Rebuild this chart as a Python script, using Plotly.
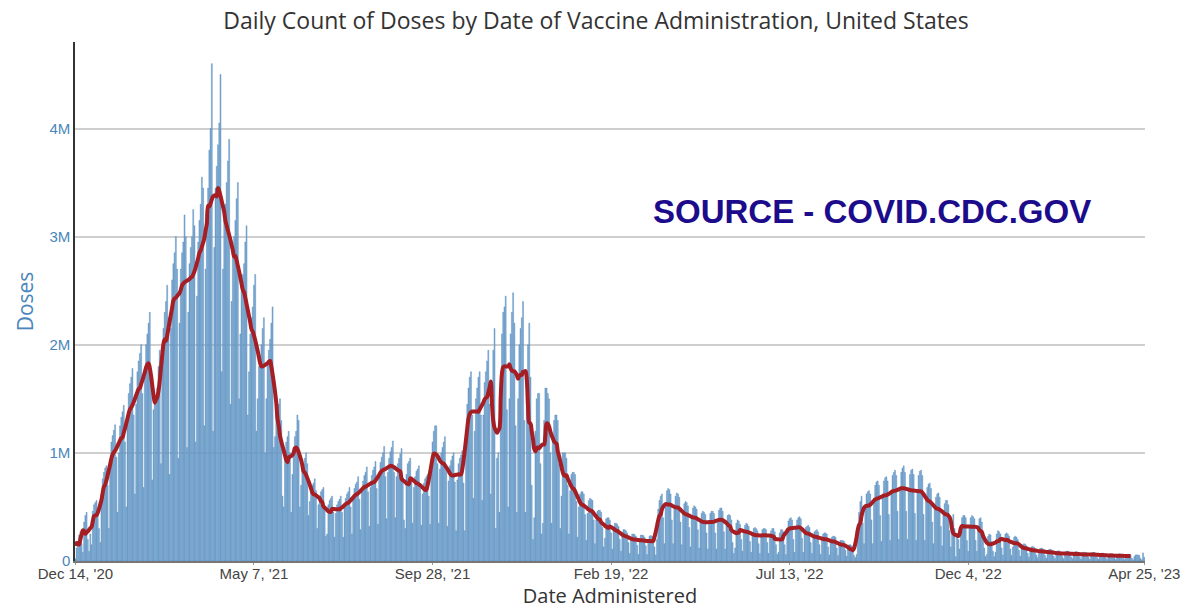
import plotly.graph_objects as go
import pandas as pd

# daily doses in thousands, one row per week (Mon..Sun), starting Mon Dec 14 2020
weekly_rows = [
    [20, 120, 180, 240, 270, 160, 80],
    [360, 420, 450, 200, 90, 250, 150],
    [460, 520, 540, 560, 420, 300, 170],
    [620, 760, 820, 860, 880, 700, 300],
    [900, 1100, 1160, 1210, 1260, 960, 450],
    [1000, 1250, 1330, 1380, 1440, 1100, 500],
    [1300, 1550, 1640, 1700, 1780, 1350, 620],
    [1450, 1750, 1850, 1920, 2000, 1550, 680],
    [1700, 2000, 2100, 2200, 2300, 1750, 750],
    [1400, 1500, 1450, 1600, 1800, 1950, 900],
    [1800, 2150, 2300, 2400, 2550, 2250, 800],
    [2150, 2600, 2750, 2850, 3000, 2700, 950],
    [2200, 2700, 2850, 2950, 3200, 3000, 1050],
    [2300, 2750, 2900, 3000, 3250, 3100, 1100],
    [2450, 2950, 3150, 3300, 3550, 3450, 1250],
    [2700, 3200, 3450, 3800, 4000, 4600, 1200],
    [2900, 3450, 3650, 3850, 4050, 4500, 1750],
    [2700, 3150, 3300, 3500, 3700, 3900, 1450],
    [2400, 2850, 3000, 3150, 3350, 3500, 1500],
    [2100, 2500, 2650, 2750, 2950, 3100, 1350],
    [1750, 2100, 2250, 2350, 2550, 2650, 1200],
    [1500, 1800, 1900, 2000, 2150, 2250, 1000],
    [1500, 1850, 1950, 2050, 2200, 2350, 1050],
    [1150, 1350, 1400, 1450, 1500, 1300, 600],
    [500, 1000, 1100, 1150, 1200, 1000, 450],
    [800, 1050, 1150, 1200, 1350, 1300, 500],
    [700, 850, 900, 950, 1000, 900, 420],
    [550, 650, 700, 720, 760, 650, 300],
    [520, 600, 640, 660, 680, 480, 230],
    [250, 520, 560, 580, 600, 450, 220],
    [440, 520, 550, 570, 600, 450, 220],
    [500, 580, 620, 640, 680, 500, 250],
    [570, 670, 710, 730, 780, 570, 290],
    [640, 740, 790, 820, 870, 640, 320],
    [680, 790, 840, 870, 920, 670, 340],
    [780, 910, 960, 1000, 1060, 780, 390],
    [820, 950, 1010, 1050, 1110, 820, 400],
    [780, 900, 950, 990, 1040, 770, 380],
    [300, 800, 900, 920, 950, 750, 350],
    [680, 780, 830, 850, 880, 670, 330],
    [620, 720, 760, 780, 800, 600, 340],
    [900, 1100, 1200, 1250, 1250, 900, 350],
    [850, 1000, 1050, 1100, 1150, 830, 320],
    [740, 880, 930, 970, 1000, 730, 280],
    [750, 900, 950, 980, 1020, 720, 280],
    [1100, 1450, 1600, 1700, 1750, 1350, 580],
    [1200, 1500, 1600, 1700, 1750, 1350, 560],
    [1350, 1650, 1750, 1850, 1950, 1450, 620],
    [1650, 1950, 2150, 300, 950, 1000, 450],
    [1500, 2100, 2300, 2350, 2450, 1400, 500],
    [1500, 2100, 2300, 2480, 2200, 1250, 450],
    [1500, 2000, 2150, 2250, 2400, 1300, 450],
    [1700, 2000, 2200, 1700, 700, 200, 400],
    [1200, 1500, 1550, 1550, 900, 250, 350],
    [1300, 1600, 1600, 1550, 1500, 1000, 350],
    [1100, 1300, 1350, 1350, 1300, 900, 300],
    [600, 1000, 1000, 1000, 950, 700, 250],
    [650, 800, 820, 820, 800, 550, 220],
    [500, 620, 640, 640, 620, 430, 190],
    [440, 560, 580, 570, 560, 380, 160],
    [380, 460, 470, 470, 450, 310, 130],
    [210, 390, 400, 400, 380, 260, 110],
    [300, 350, 350, 340, 320, 200, 90],
    [240, 290, 290, 280, 260, 170, 70],
    [210, 250, 250, 245, 230, 145, 60],
    [200, 240, 240, 235, 220, 140, 60],
    [180, 230, 235, 230, 220, 130, 55],
    [200, 480, 560, 600, 620, 400, 160],
    [520, 650, 670, 660, 620, 380, 160],
    [500, 600, 630, 620, 590, 360, 150],
    [440, 530, 550, 540, 510, 310, 130],
    [410, 490, 510, 500, 480, 290, 120],
    [370, 440, 460, 450, 430, 260, 110],
    [360, 440, 460, 460, 440, 260, 110],
    [380, 470, 490, 490, 460, 270, 110],
    [350, 420, 430, 420, 380, 170, 70],
    [120, 350, 380, 370, 340, 200, 90],
    [280, 330, 350, 340, 320, 180, 80],
    [250, 300, 310, 300, 280, 160, 70],
    [250, 290, 300, 300, 290, 170, 70],
    [240, 280, 300, 300, 270, 150, 60],
    [80, 260, 290, 290, 270, 150, 60],
    [300, 370, 390, 400, 380, 200, 80],
    [310, 380, 400, 410, 390, 210, 80],
    [260, 310, 320, 330, 310, 170, 70],
    [230, 270, 280, 290, 270, 150, 60],
    [200, 250, 260, 260, 250, 130, 55],
    [190, 220, 230, 230, 220, 120, 50],
    [150, 190, 190, 190, 180, 100, 45],
    [130, 150, 150, 140, 110, 50, 30],
    [60, 300, 450, 550, 600, 350, 160],
    [520, 620, 640, 650, 620, 380, 160],
    [580, 700, 730, 740, 700, 420, 180],
    [610, 740, 770, 780, 740, 430, 190],
    [650, 790, 820, 840, 790, 460, 200],
    [670, 820, 860, 880, 820, 460, 200],
    [650, 800, 840, 850, 800, 440, 190],
    [640, 790, 830, 840, 790, 430, 190],
    [560, 680, 710, 720, 670, 360, 160],
    [480, 590, 620, 630, 590, 320, 140],
    [430, 530, 560, 560, 520, 280, 130],
    [360, 430, 300, 40, 250, 200, 110],
    [320, 400, 420, 420, 400, 190, 90],
    [320, 400, 420, 410, 390, 190, 90],
    [320, 390, 400, 360, 250, 120, 40],
    [60, 230, 250, 240, 180, 90, 40],
    [80, 250, 280, 270, 250, 120, 55],
    [200, 250, 260, 250, 230, 110, 50],
    [130, 220, 230, 220, 200, 100, 45],
    [120, 150, 160, 155, 140, 70, 35],
    [100, 130, 135, 130, 115, 55, 30],
    [90, 115, 120, 115, 105, 50, 25],
    [80, 105, 110, 105, 95, 45, 22],
    [72, 92, 95, 92, 82, 40, 20],
    [70, 90, 92, 90, 80, 38, 20],
    [65, 85, 88, 85, 76, 36, 18],
    [60, 80, 82, 80, 72, 34, 17],
    [58, 78, 80, 78, 70, 33, 16],
    [55, 72, 74, 72, 64, 30, 15],
    [50, 66, 68, 66, 59, 28, 14],
    [48, 64, 66, 64, 57, 27, 13],
    [45, 60, 62, 60, 53, 25, 12],
    [42, 56, 58, 56, 50, 23, 11],
    [75, 35],
]

tick_dates = ['2020-12-14', '2021-05-07', '2021-09-28', '2022-02-19',
              '2022-07-13', '2022-12-04', '2023-04-25']
tick_labels = ["Dec 14, '20", "May 7, '21", "Sep 28, '21", "Feb 19, '22",
               "Jul 13, '22", "Dec 4, '22", "Apr 25, '23"]

doses = [v * 1000 for row in weekly_rows for v in row]
dates = pd.date_range('2020-12-14', periods=len(doses), freq='D')
df = pd.DataFrame({'date': dates, 'doses': doses})
df['avg7'] = df['doses'].rolling(7, center=True, min_periods=1).mean()
avg = df.iloc[:-11]

fig = go.Figure()
fig.add_trace(go.Bar(x=df['date'], y=df['doses'], name='Daily doses',
                     marker=dict(color='#86b0d6', line=dict(color='#4a84b8', width=0.4))))
fig.add_trace(go.Scatter(x=avg['date'], y=avg['avg7'], mode='lines', name='7-day average',
                         line=dict(color='#a51e24', width=4, shape='spline')))

# page body adds an 8px offset, margins compensate for it
fig.update_layout(
    width=1192, height=615,
    title=dict(text='Daily Count of Doses by Date of Vaccine Administration, United States',
               x=588 / 1192, y=1 - 13 / 615, xanchor='center', yanchor='middle',
               font=dict(family='Open Sans', size=23, color='#333')),
    margin=dict(l=67, r=55, t=34, b=62),
    plot_bgcolor='white', paper_bgcolor='white',
    showlegend=False, bargap=0.2,
    annotations=[dict(x=0.745, y=0.674, xref='paper', yref='paper',
                      xanchor='center', yanchor='middle',
                      text='<b>SOURCE - COVID.CDC.GOV</b>', showarrow=False,
                      font=dict(family='Liberation Sans, Arial', size=33, color='#1c0c8c'))],
)
fig.update_xaxes(
    type='date', range=['2020-12-13 16:00', '2023-04-25 14:00'],
    tickvals=tick_dates, ticktext=tick_labels,
    tickfont=dict(family='Liberation Sans, Arial', size=15, color='#444'),
    ticklabelstandoff=-4,
    title=dict(text='Date Administered', font=dict(family='Open Sans', size=20, color='#333'), standoff=2),
    showline=True, linecolor='#777', linewidth=2, ticks='outside', ticklen=2, tickcolor='#999',
    showgrid=False, zeroline=False,
)
fig.update_yaxes(
    range=[0, 4.8e6], tickvals=[0, 1e6, 2e6, 3e6, 4e6], ticktext=['0', '1M', '2M', '3M', '4M'],
    tickfont=dict(family='Liberation Sans, Arial', size=15, color='#4a86bb'),
    title=dict(text='Doses', font=dict(family='Open Sans', size=21, color='#4a86bb'), standoff=10),
    showline=True, linecolor='#333', linewidth=1.5,
    showgrid=True, gridcolor='#cfcfcf', gridwidth=1.5, zeroline=False,
)

fig.write_html("out.html")
